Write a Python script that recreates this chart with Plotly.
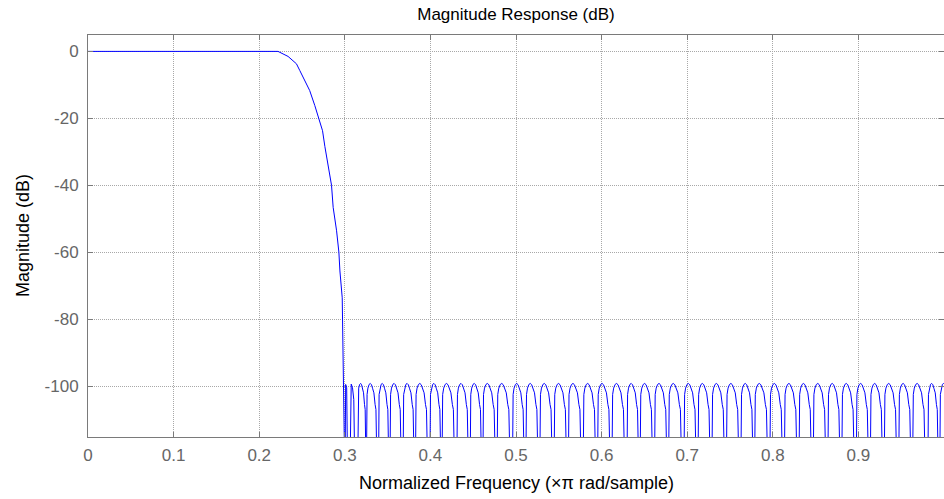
import plotly.graph_objects as go

# ---- data (normalized frequency x pi, magnitude dB) ----
# passband + transition band
trans_f = [0.0, 0.222, 0.2337, 0.2435, 0.2474, 0.259, 0.265, 0.270, 0.274, 0.2767,
           0.2806, 0.2845, 0.2864, 0.2904, 0.2931, 0.2943, 0.2970, 0.2974, 0.2981, 0.2990]
trans_db = [0.0, 0.0, -1.5, -3.7, -5.7, -11.7, -16.2, -20.0, -23.7, -28.4,
            -33.6, -40.0, -46.6, -53.6, -60.0, -65.6, -73.6, -80.0, -85.0, -130.0]

# first two narrow stopband lobes right after the edge
edge_f = [0.3002, 0.3010, 0.3022, 0.3035, 0.3058, 0.3075, 0.3090, 0.3105, 0.3120]
edge_db = [-130.0, -99.5, -100.5, -130.0, -130.0, -99.4, -100.5, -104.0, -130.0]

# stopband lobe peak frequencies (equiripple at about -99.2 dB)
peak_f = [0.3185, 0.3298, 0.3438, 0.3576, 0.3728, 0.3877, 0.4041, 0.4189, 0.4358,
          0.4513, 0.4666, 0.4834, 0.5009, 0.5167, 0.5331, 0.5498, 0.5666, 0.5838,
          0.6006, 0.6175, 0.6346, 0.6503, 0.6671, 0.6838, 0.7014, 0.7178, 0.7342,
          0.7511, 0.7679, 0.7843, 0.8019, 0.8189, 0.8359, 0.8526, 0.8695, 0.8859,
          0.9027, 0.9191, 0.9355, 0.9523, 0.9687, 0.9856, 0.9995]
peak_db = -99.2

# outline of one stopband lobe
# (position relative to the peak, in units of the lobe spacing; level in dB)
lobe_pos = [-0.33, -0.27, -0.20, -0.10, 0.0, 0.10, 0.20, 0.30, 0.40, 0.47, 0.58]
lobe_db = [-130.0, -102.5, -100.6, -99.5, 0.0, -99.6, -100.8, -102.0, -105.5, -107.0, -130.0]

x_ticks = [0, 0.1, 0.2, 0.3, 0.4, 0.5, 0.6, 0.7, 0.8, 0.9]
x_labels = ["0", "0.1", "0.2", "0.3", "0.4", "0.5", "0.6", "0.7", "0.8", "0.9"]
y_ticks = [0, -20, -40, -60, -80, -100]
y_labels = ["0", "-20", "-40", "-60", "-80", "-100"]

# ---- assemble the response curve ----
f = list(trans_f) + list(edge_f)
db = list(trans_db) + list(edge_db)
for i, p in enumerate(peak_f):
    sp = (peak_f[i + 1] - p) if i + 1 < len(peak_f) else (p - peak_f[i - 1])
    for rp, lv in zip(lobe_pos, lobe_db):
        f.append(p + rp * sp)
        db.append(peak_db if rp == 0.0 else lv)

FONT = "Liberation Sans, Arial, sans-serif"
AX = "#7a7a7a"

fig = go.Figure()
fig.add_trace(go.Scatter(x=f, y=db, mode="lines",
                         line=dict(color="#0000ff", width=1),
                         hoverinfo="skip", showlegend=False))

axis_common = dict(showgrid=True, gridcolor="#a8a8a8", griddash="1px,1px", gridwidth=1,
                   showline=True, linecolor=AX, linewidth=1, mirror="ticks",
                   ticks="inside", ticklen=5, tickcolor=AX, zeroline=False,
                   tickfont=dict(family=FONT, size=17, color="#666666"))

fig.update_xaxes(range=[0, 1.0], tickvals=x_ticks, ticktext=x_labels,
                 ticklabelstandoff=3, **axis_common)
fig.update_yaxes(range=[-115.2, 4.9], tickvals=y_ticks, ticktext=y_labels,
                 ticklabelstandoff=5, **axis_common)

fig.update_layout(
    width=944, height=499,
    margin=dict(l=88, r=0, t=35, b=62),
    plot_bgcolor="white", paper_bgcolor="white",
    title=dict(text="Magnitude Response (dB)", x=0.5, xref="paper",
               y=1 - 14 / 499, yref="container", yanchor="middle",
               font=dict(family=FONT, size=17, color="#000000")),
    annotations=[
        dict(text="Normalized Frequency (\u00d7\u03c0 rad/sample)", xref="paper", yref="paper",
             x=0.5, y=-46 / 402, xanchor="center", yanchor="middle", showarrow=False,
             font=dict(family=FONT, size=18, color="#000000")),
        dict(text="Magnitude (dB)", xref="paper", yref="paper", textangle=-90,
             x=-65 / 856, y=0.5, xanchor="center", yanchor="middle", showarrow=False,
             font=dict(family=FONT, size=18, color="#000000")),
    ],
)

fig.write_html("out.html", config={"displayModeBar": False},
               post_script="document.body.style.margin='0';document.body.style.padding='0';")
